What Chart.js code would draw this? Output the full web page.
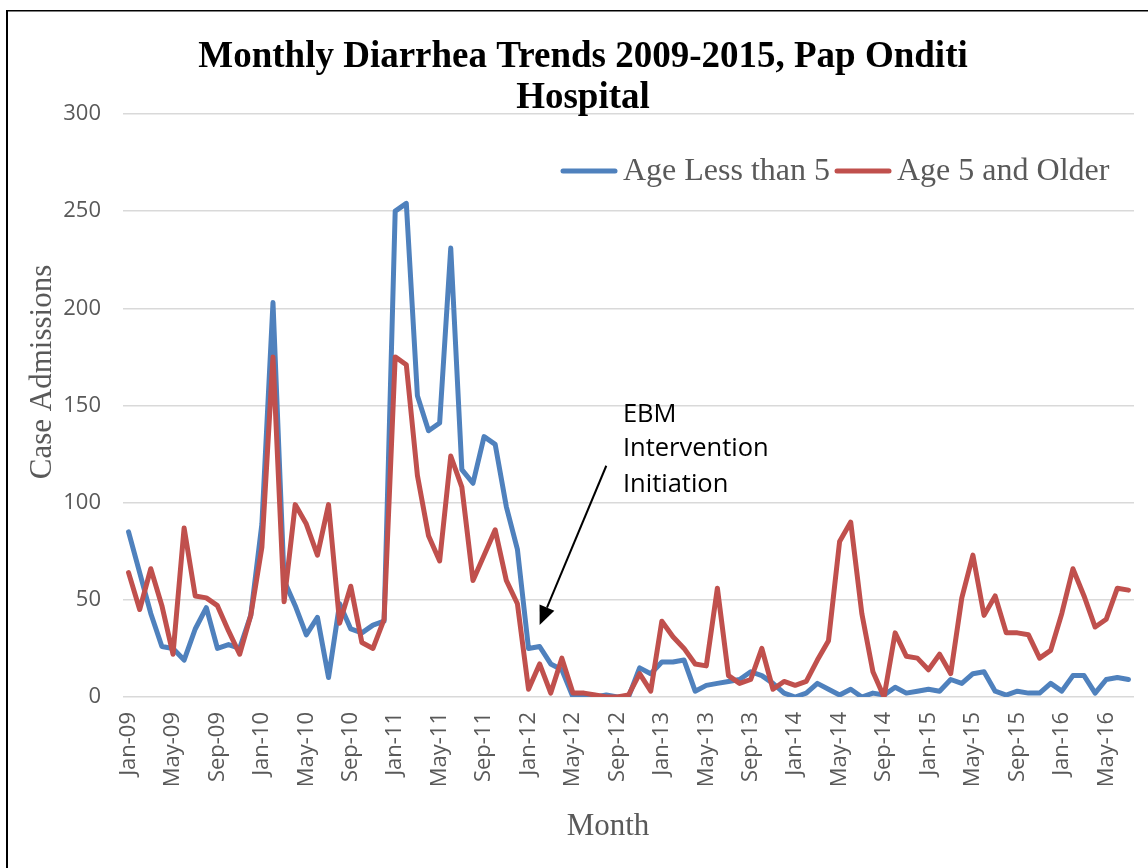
<!DOCTYPE html>
<html>
<head>
<meta charset="utf-8">
<script src="https://cdn.jsdelivr.net/npm/chart.js@4.4.0/dist/chart.umd.min.js"></script>
<style>
  html, body { margin: 0; padding: 0; background: #ffffff; }
  canvas { display: block; }
</style>
</head>
<body>
<canvas id="chart" width="1148" height="868"></canvas>
<script>
// Month categories, Jan 2009 through Jul 2016
const months = [
  'Jan-09','Feb-09','Mar-09','Apr-09','May-09','Jun-09','Jul-09','Aug-09','Sep-09','Oct-09','Nov-09','Dec-09',
  'Jan-10','Feb-10','Mar-10','Apr-10','May-10','Jun-10','Jul-10','Aug-10','Sep-10','Oct-10','Nov-10','Dec-10',
  'Jan-11','Feb-11','Mar-11','Apr-11','May-11','Jun-11','Jul-11','Aug-11','Sep-11','Oct-11','Nov-11','Dec-11',
  'Jan-12','Feb-12','Mar-12','Apr-12','May-12','Jun-12','Jul-12','Aug-12','Sep-12','Oct-12','Nov-12','Dec-12',
  'Jan-13','Feb-13','Mar-13','Apr-13','May-13','Jun-13','Jul-13','Aug-13','Sep-13','Oct-13','Nov-13','Dec-13',
  'Jan-14','Feb-14','Mar-14','Apr-14','May-14','Jun-14','Jul-14','Aug-14','Sep-14','Oct-14','Nov-14','Dec-14',
  'Jan-15','Feb-15','Mar-15','Apr-15','May-15','Jun-15','Jul-15','Aug-15','Sep-15','Oct-15','Nov-15','Dec-15',
  'Jan-16','Feb-16','Mar-16','Apr-16','May-16','Jun-16','Jul-16'
];

// Monthly case admissions, children under 5
const underFive = [
  85, 64, 43, 26, 25, 19, 35, 46, 25, 27, 25, 42,
  89, 203, 60, 47, 32, 41, 10, 48, 35, 33, 37, 39,
  250, 254, 155, 137, 141, 231, 117, 110, 134, 130, 98, 76,
  25, 26, 17, 14, 0, 1, 0, 1, 0, 0, 15, 12,
  18, 18, 19, 3, 6, 7, 8, 9, 13, 11, 7, 2,
  0, 2, 7, 4, 1, 4, 0, 2, 1, 5, 2, 3,
  4, 3, 9, 7, 12, 13, 3, 1, 3, 2, 2, 7,
  3, 11, 11, 2, 9, 10, 9
];

// Monthly case admissions, age 5 and older
const fiveAndOlder = [
  64, 45, 66, 47, 22, 87, 52, 51, 47, 34, 22, 42,
  77, 175, 49, 99, 89, 73, 99, 38, 57, 28, 25, 40,
  175, 171, 114, 83, 70, 124, 108, 60, 73, 86, 60, 48,
  4, 17, 2, 20, 2, 2, 1, 0, 0, 1, 12, 3,
  39, 31, 25, 17, 16, 56, 11, 7, 9, 25, 4, 8,
  6, 8, 19, 29, 80, 90, 43, 13, 0, 33, 21, 20,
  14, 22, 12, 51, 73, 42, 52, 33, 33, 32, 20, 24,
  43, 66, 52, 36, 40, 56, 55
];

const seriesNames = ['Age Less than 5', 'Age 5 and Older'];
const seriesColors = ['#4F81BD', '#C0504D'];
const titleLines = ['Monthly Diarrhea Trends 2009-2015, Pap Onditi', 'Hospital'];
const xTitle = 'Month';
const yTitle = 'Case Admissions';
const yMin = 0, yMax = 300, yStep = 50;
const tickEvery = 4;

// Callout marking the start of the intervention
const noteLines = ['EBM', 'Intervention', 'Initiation'];
const noteTextAt = { index: 44.5, values: [145.5, 127.5, 109] };
const arrowFrom = { index: 43, value: 119 };
const arrowTo = { index: 37, value: 37 };

// Frame, title, axis titles, legend and callout
const decor = {
  id: 'decor',
  afterDraw(chart) {
    const { ctx, scales: { x, y } } = chart;
    ctx.save();

    // chart frame (top and left edges)
    ctx.fillStyle = '#000000';
    ctx.fillRect(6, 10, 2, chart.height - 10);
    ctx.fillRect(6, 10, chart.width - 6, 1.5);

    // title
    ctx.fillStyle = '#000000';
    ctx.font = 'bold 37px "Liberation Serif"';
    ctx.textAlign = 'center';
    ctx.textBaseline = 'alphabetic';
    ctx.fillText(titleLines[0], 583, 67);
    ctx.fillText(titleLines[1], 583, 108);

    // axis titles
    ctx.fillStyle = '#595959';
    ctx.font = '31px "Liberation Serif"';
    ctx.fillText(xTitle, 608, 835);
    ctx.save();
    ctx.translate(51, 372);
    ctx.rotate(-Math.PI / 2);
    ctx.fillText(yTitle, 0, 0);
    ctx.restore();

    // legend
    const legendY = 171;
    const legendItems = [
      { x0: 563, x1: 615, tx: 623 },
      { x0: 837, x1: 889, tx: 897 }
    ];
    ctx.font = '32px "Liberation Serif"';
    ctx.textAlign = 'left';
    ctx.textBaseline = 'middle';
    chart.data.datasets.forEach((ds, i) => {
      const it = legendItems[i];
      ctx.strokeStyle = ds.borderColor;
      ctx.lineWidth = ds.borderWidth;
      ctx.lineCap = 'round';
      ctx.beginPath();
      ctx.moveTo(it.x0, legendY);
      ctx.lineTo(it.x1, legendY);
      ctx.stroke();
      ctx.fillStyle = '#595959';
      ctx.fillText(ds.label, it.tx, legendY + 1);
    });

    // callout text
    ctx.fillStyle = '#000000';
    ctx.font = '25.5px "Open Sans"';
    ctx.textAlign = 'left';
    ctx.textBaseline = 'middle';
    const nx = x.getPixelForValue(noteTextAt.index);
    noteLines.forEach((t, i) => ctx.fillText(t, nx, y.getPixelForValue(noteTextAt.values[i])));

    // callout arrow
    const ax0 = x.getPixelForValue(arrowFrom.index), ay0 = y.getPixelForValue(arrowFrom.value);
    const ax1 = x.getPixelForValue(arrowTo.index), ay1 = y.getPixelForValue(arrowTo.value);
    const ang = Math.atan2(ay1 - ay0, ax1 - ax0);
    const headLen = 19, headHalf = 8;
    const bx = ax1 - Math.cos(ang) * headLen, by = ay1 - Math.sin(ang) * headLen;
    ctx.strokeStyle = '#000000';
    ctx.lineWidth = 2;
    ctx.lineCap = 'butt';
    ctx.beginPath();
    ctx.moveTo(ax0, ay0);
    ctx.lineTo(bx, by);
    ctx.stroke();
    ctx.beginPath();
    ctx.moveTo(ax1, ay1);
    ctx.lineTo(bx + Math.sin(ang) * headHalf, by - Math.cos(ang) * headHalf);
    ctx.lineTo(bx - Math.sin(ang) * headHalf, by + Math.cos(ang) * headHalf);
    ctx.closePath();
    ctx.fillStyle = '#000000';
    ctx.fill();

    ctx.restore();
  }
};

const lineStyle = {
  borderWidth: 5,
  pointRadius: 0,
  pointHoverRadius: 0,
  tension: 0,
  fill: false,
  borderJoinStyle: 'round',
  borderCapStyle: 'round'
};

new Chart(document.getElementById('chart').getContext('2d'), {
  type: 'line',
  data: {
    labels: months,
    datasets: [
      Object.assign({ label: seriesNames[0], data: underFive, borderColor: seriesColors[0], backgroundColor: seriesColors[0], order: 1 }, lineStyle),
      Object.assign({ label: seriesNames[1], data: fiveAndOlder, borderColor: seriesColors[1], backgroundColor: seriesColors[1], order: 0 }, lineStyle)
    ]
  },
  options: {
    responsive: false,
    animation: false,
    devicePixelRatio: 1,
    layout: { padding: { left: 6, top: 114, right: 13, bottom: 0 } },
    plugins: {
      legend: { display: false },
      title: { display: false },
      tooltip: { enabled: false }
    },
    scales: {
      x: {
        offset: true,
        grid: { display: false, drawTicks: false },
        border: { display: false },
        ticks: {
          autoSkip: false,
          minRotation: 90,
          maxRotation: 90,
          padding: 15,
          color: '#595959',
          font: { family: 'Open Sans', size: 22 },
          callback: (v, i) => (i % tickEvery === 0 ? months[i] : null)
        },
        afterFit: (s) => { s.height = 171; }
      },
      y: {
        min: yMin,
        max: yMax,
        ticks: {
          stepSize: yStep,
          padding: 22,
          color: '#595959',
          font: { family: 'Open Sans', size: 22 }
        },
        grid: { color: '#D9D9D9', lineWidth: 1.5, drawTicks: false },
        border: { display: false },
        afterFit: (s) => { s.width = 117; }
      }
    }
  },
  plugins: [decor]
});
</script>
</body>
</html>
